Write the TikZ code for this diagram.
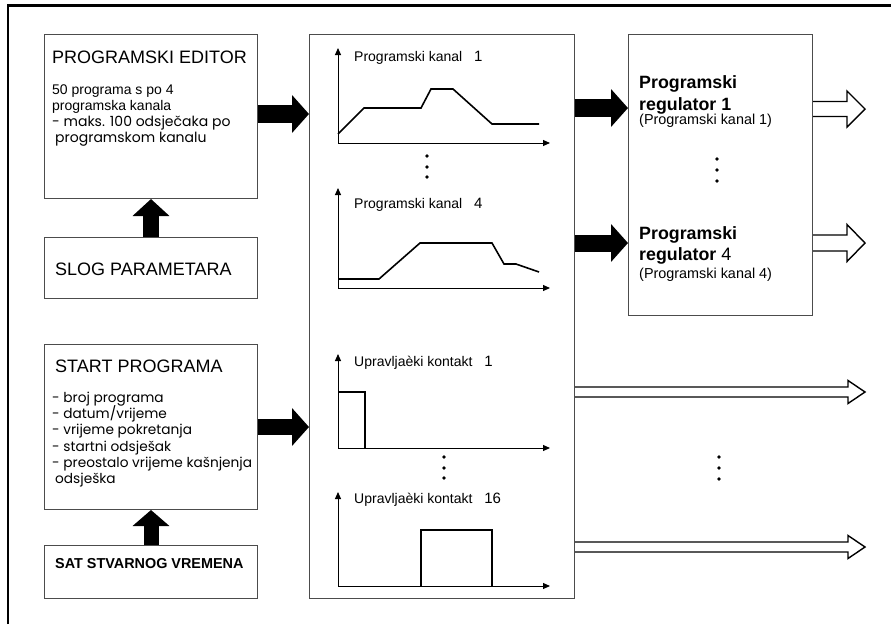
\documentclass[tikz,border=0pt]{standalone}
\usepackage{fontspec}
\setmainfont{Liberation Sans}
\newfontfamily\geo{Poppins}
\usetikzlibrary{arrows.meta,calc}
\newcommand\hollowarr[5]{%
  \draw[line width=1.4pt, fill=white, line join=miter]
    let \p1=#1, \p2=#2 in
    (\x1,\y1+#3) -- (\x2-#5,\y1+#3) -- (\x2-#5,\y1+#4) -- (\x2,\y1)
    -- (\x2-#5,\y1-#4) -- (\x2-#5,\y1-#3) -- (\x1,\y1-#3);}
\newcommand\bigdig[1]{\hspace{8pt}{\fontsize{15}{16}\selectfont #1}}
\begin{document}
\begin{tikzpicture}[x=1pt,y=-1pt,
  box/.style={draw=black!70, line width=1pt, anchor=north west, inner sep=0pt},
  lbl/.style={anchor=base west, inner sep=0pt},
  head/.style={font=\fontsize{18}{20}\selectfont},
  body/.style={font=\fontsize{14}{16}\selectfont},
  geoa/.style={font=\geo\fontsize{14}{16}\selectfont},
  geob/.style={font=\geo\fontsize{13.7}{16}\selectfont},
  chl/.style={font=\fontsize{14}{16}\selectfont},
  regb/.style={font=\bfseries\fontsize{17.8}{20}\selectfont},
  regs/.style={font=\fontsize{14.4}{16}\selectfont},
  blk/.style={draw=black, line width=#1, -{Triangle[width=37pt,length=17pt]}},
  axis/.style={line width=1pt, -{Triangle[length=7pt,width=6pt]}},
  curve/.style={line width=1.6pt, line join=miter},
  dot/.style={fill=black}
]
\useasboundingbox (0,0) rectangle (891,624);
% outer frame
\draw[line width=2.3pt] (8,624) -- (8,5.5) -- (891,5.5);

% boxes
\node[box, minimum width=213pt, minimum height=164pt] (editor) at (44,34) {};
\node[box, minimum width=213pt, minimum height=61pt] (slog) at (44,237) {};
\node[box, minimum width=213pt, minimum height=165pt] (start) at (44,344) {};
\node[box, minimum width=213pt, minimum height=53pt] (sat) at (44,545) {};
\node[box, minimum width=265pt, minimum height=564pt] (mid) at (309,34) {};
\node[box, minimum width=184pt, minimum height=281pt] (reg) at (628,34) {};

% editor texts
\node[lbl, head] (edT) at (52,63) {PROGRAMSKI EDITOR};
\node[lbl, body] (ed1) at (52,94) {50 programa s po 4};
\node[lbl, body] (ed2) at (52,110) {programska kanala};
\node[lbl, geoa] (ed3) at (52,126) {- maks. 100 odsječaka po};
\node[lbl, geoa] (ed4) at (55,142) {programskom kanalu};

\node[lbl, head] (slT) at (55,275) {SLOG PARAMETARA};

\node[lbl, head] (stT) at (55,372) {START PROGRAMA};
\node[lbl, geob] (st1) at (52,402) {- broj programa};
\node[lbl, geob] (st2) at (52,418.3) {- datum/vrijeme};
\node[lbl, geob] (st3) at (52,434.6) {- vrijeme pokretanja};
\node[lbl, geob] (st4) at (52,451) {- startni odsješak};
\node[lbl, geob] (st5) at (52,467.2) {- preostalo vrijeme kašnjenja};
\node[lbl, geob] (st6) at (55,483.5) {odsješka};

\node[lbl, font=\bfseries\fontsize{14.4}{16}\selectfont] (saT) at (55,568) {SAT STVARNOG VREMENA};

% channel labels
\node[lbl, chl] (c1) at (354,61) {Programski kanal \bigdig{1}};
\node[lbl, chl] (c4) at (354,208) {Programski kanal \bigdig{4}};
\node[lbl, chl] (k1) at (354,366) {Upravljaèki kontakt \bigdig{1}};
\node[lbl, chl] (k16) at (354,503) {Upravljaèki kontakt \bigdig{16}};

% graph 1
\draw[axis] (338,143) -- (338,48);
\draw[axis] (338,143) -- (550,143);
\draw[curve] (338,134) -- (364,108) -- (421,108) -- (431,89) -- (453,89) -- (492,124) -- (539,124);
% graph 2
\draw[axis] (338,288) -- (338,188);
\draw[axis] (338,288) -- (550,288);
\draw[curve] (338,279) -- (379,279) -- (420,243) -- (492,243) -- (504,264) -- (516,264) -- (539,272);
% graph 3
\draw[axis] (338,448) -- (338,354);
\draw[axis] (338,448) -- (550,448);
\draw[curve] (338,392) -- (365,392) -- (365,448);
% graph 4
\draw[axis] (338,586) -- (338,492);
\draw[axis] (338,586) -- (550,586);
\draw[curve] (421,586) -- (421,530) -- (492,530) -- (492,586);

% dots
\foreach \yy in {156,167,177} \fill[dot] (427,\yy) circle[radius=1.9pt];
\foreach \yy in {457,468,478} \fill[dot] (444,\yy) circle[radius=1.9pt];
\foreach \yy in {159,170,181} \fill[dot] (717,\yy) circle[radius=1.9pt];
\foreach \yy in {457,468,479} \fill[dot] (719,\yy) circle[radius=1.9pt];

% regulator texts
\node[lbl, regb] (r1a) at (639,88) {Programski};
\node[lbl, regb] (r1b) at (639,110) {regulator 1};
\node[lbl, regs] (r1c) at (639,124) {(Programski kanal 1)};
\node[lbl, regb] (r4a) at (639,239) {Programski};
\node[lbl, regb] (r4b) at (639,260) {regulator {\mdseries\fontsize{18}{20}\selectfont 4}};
\node[lbl, regs] (r4c) at (639,278) {(Programski kanal 4)};

% black arrows
\draw[blk=18pt] (editor.east |- 0,114) -- (mid.west |- 0,114);
\draw[blk=16pt] (start.east |- 0,427) -- (mid.west |- 0,427);
\draw[blk=18pt] (mid.east |- 0,108) -- (reg.west |- 0,108);
\draw[blk=17pt] (mid.east |- 0,243) -- (reg.west |- 0,243);
\draw[draw=black, line width=16pt, -{Triangle[width=36pt,length=17pt]}] (slog.north) -- (editor.south);
\draw[draw=black, line width=15pt, -{Triangle[width=36pt,length=16pt]}] (sat.north) -- (start.south);

% hollow arrows
\coordinate (o1) at (865,109);
\coordinate (o4) at (865,243);
\coordinate (ok1) at (865,392);
\coordinate (ok16) at (865,547);
\hollowarr{(reg.east |- o1)}{(o1)}{7.5pt}{18pt}{18pt}
\hollowarr{(reg.east |- o4)}{(o4)}{8pt}{18.5pt}{18pt}
\hollowarr{(mid.east |- ok1)}{(ok1)}{5pt}{11.5pt}{17pt}
\hollowarr{(mid.east |- ok16)}{(ok16)}{5pt}{11.5pt}{17pt}
\end{tikzpicture}
\end{document}
